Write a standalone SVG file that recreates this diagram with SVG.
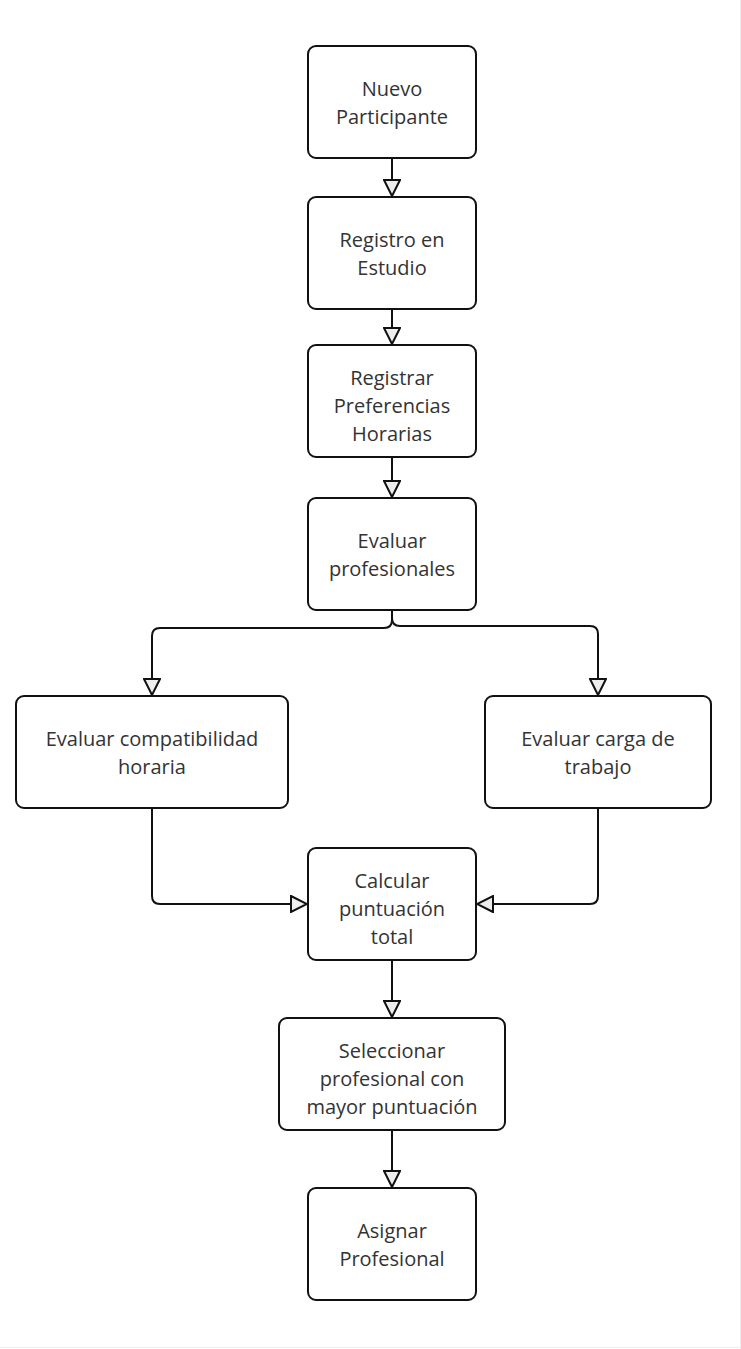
<svg xmlns="http://www.w3.org/2000/svg" width="741" height="1349" viewBox="0 0 741 1349">
<style>
.box{fill:#fff;stroke:#111;stroke-width:2}
.lbl{font-family:"Open Sans","Noto Sans",sans-serif;font-size:20px;fill:#333;text-anchor:middle;dominant-baseline:central}
.edge{fill:none;stroke:#111;stroke-width:2}
</style>
<defs>
<marker id="arr" viewBox="0 0 18 18" refX="17" refY="9" markerWidth="18" markerHeight="18" markerUnits="userSpaceOnUse" orient="auto">
<path d="M1,1 L17,9 L1,17 Z" fill="#eee" stroke="#111" stroke-width="2" stroke-linejoin="miter"/>
</marker>
</defs>
<rect width="741" height="1349" fill="#fff"/>
<line x1="0" y1="1347.5" x2="741" y2="1347.5" stroke="#eee" stroke-width="1"/>
<line x1="740.5" y1="0" x2="740.5" y2="1349" stroke="#eee" stroke-width="1"/>
<g id="connectors">
<path class="edge" d="M392,158 V196" marker-end="url(#arr)"/>
<path class="edge" d="M392,309 V344" marker-end="url(#arr)"/>
<path class="edge" d="M392,457 V497" marker-end="url(#arr)"/>
<path class="edge" d="M392,610 V620 Q392,628 384,628 H160 Q152,628 152,636 V695" marker-end="url(#arr)"/>
<path class="edge" d="M392,610 V618 Q392,626 400,626 H590 Q598,626 598,634 V695" marker-end="url(#arr)"/>
<path class="edge" d="M152,808 V896 Q152,904 160,904 H307" marker-end="url(#arr)"/>
<path class="edge" d="M598,808 V896 Q598,904 590,904 H477" marker-end="url(#arr)"/>
<path class="edge" d="M392,960 V1017" marker-end="url(#arr)"/>
<path class="edge" d="M392,1130 V1187" marker-end="url(#arr)"/>
</g>
<g id="n1"><rect class="box" x="308" y="46" width="168" height="112" rx="8"/><text class="lbl" x="392" y="88">Nuevo</text><text class="lbl" x="392" y="116">Participante</text></g>
<g id="n2"><rect class="box" x="308" y="197" width="168" height="112" rx="8"/><text class="lbl" x="392" y="239">Registro en</text><text class="lbl" x="392" y="267">Estudio</text></g>
<g id="n3"><rect class="box" x="308" y="345" width="168" height="112" rx="8"/><text class="lbl" x="392" y="377">Registrar</text><text class="lbl" x="392" y="405">Preferencias</text><text class="lbl" x="392" y="433">Horarias</text></g>
<g id="n4"><rect class="box" x="308" y="498" width="168" height="112" rx="8"/><text class="lbl" x="392" y="540">Evaluar</text><text class="lbl" x="392" y="568">profesionales</text></g>
<g id="n5"><rect class="box" x="16" y="696" width="272" height="112" rx="8"/><text class="lbl" x="152" y="738">Evaluar compatibilidad</text><text class="lbl" x="152" y="766">horaria</text></g>
<g id="n6"><rect class="box" x="485" y="696" width="226" height="112" rx="8"/><text class="lbl" x="598" y="738">Evaluar carga de</text><text class="lbl" x="598" y="766">trabajo</text></g>
<g id="n7"><rect class="box" x="308" y="848" width="168" height="112" rx="8"/><text class="lbl" x="392" y="880">Calcular</text><text class="lbl" x="392" y="908">puntuación</text><text class="lbl" x="392" y="936">total</text></g>
<g id="n8"><rect class="box" x="279" y="1018" width="226" height="112" rx="8"/><text class="lbl" x="392" y="1050">Seleccionar</text><text class="lbl" x="392" y="1078">profesional con</text><text class="lbl" x="392" y="1106">mayor puntuación</text></g>
<g id="n9"><rect class="box" x="308" y="1188" width="168" height="112" rx="8"/><text class="lbl" x="392" y="1230">Asignar</text><text class="lbl" x="392" y="1258">Profesional</text></g>
</svg>
